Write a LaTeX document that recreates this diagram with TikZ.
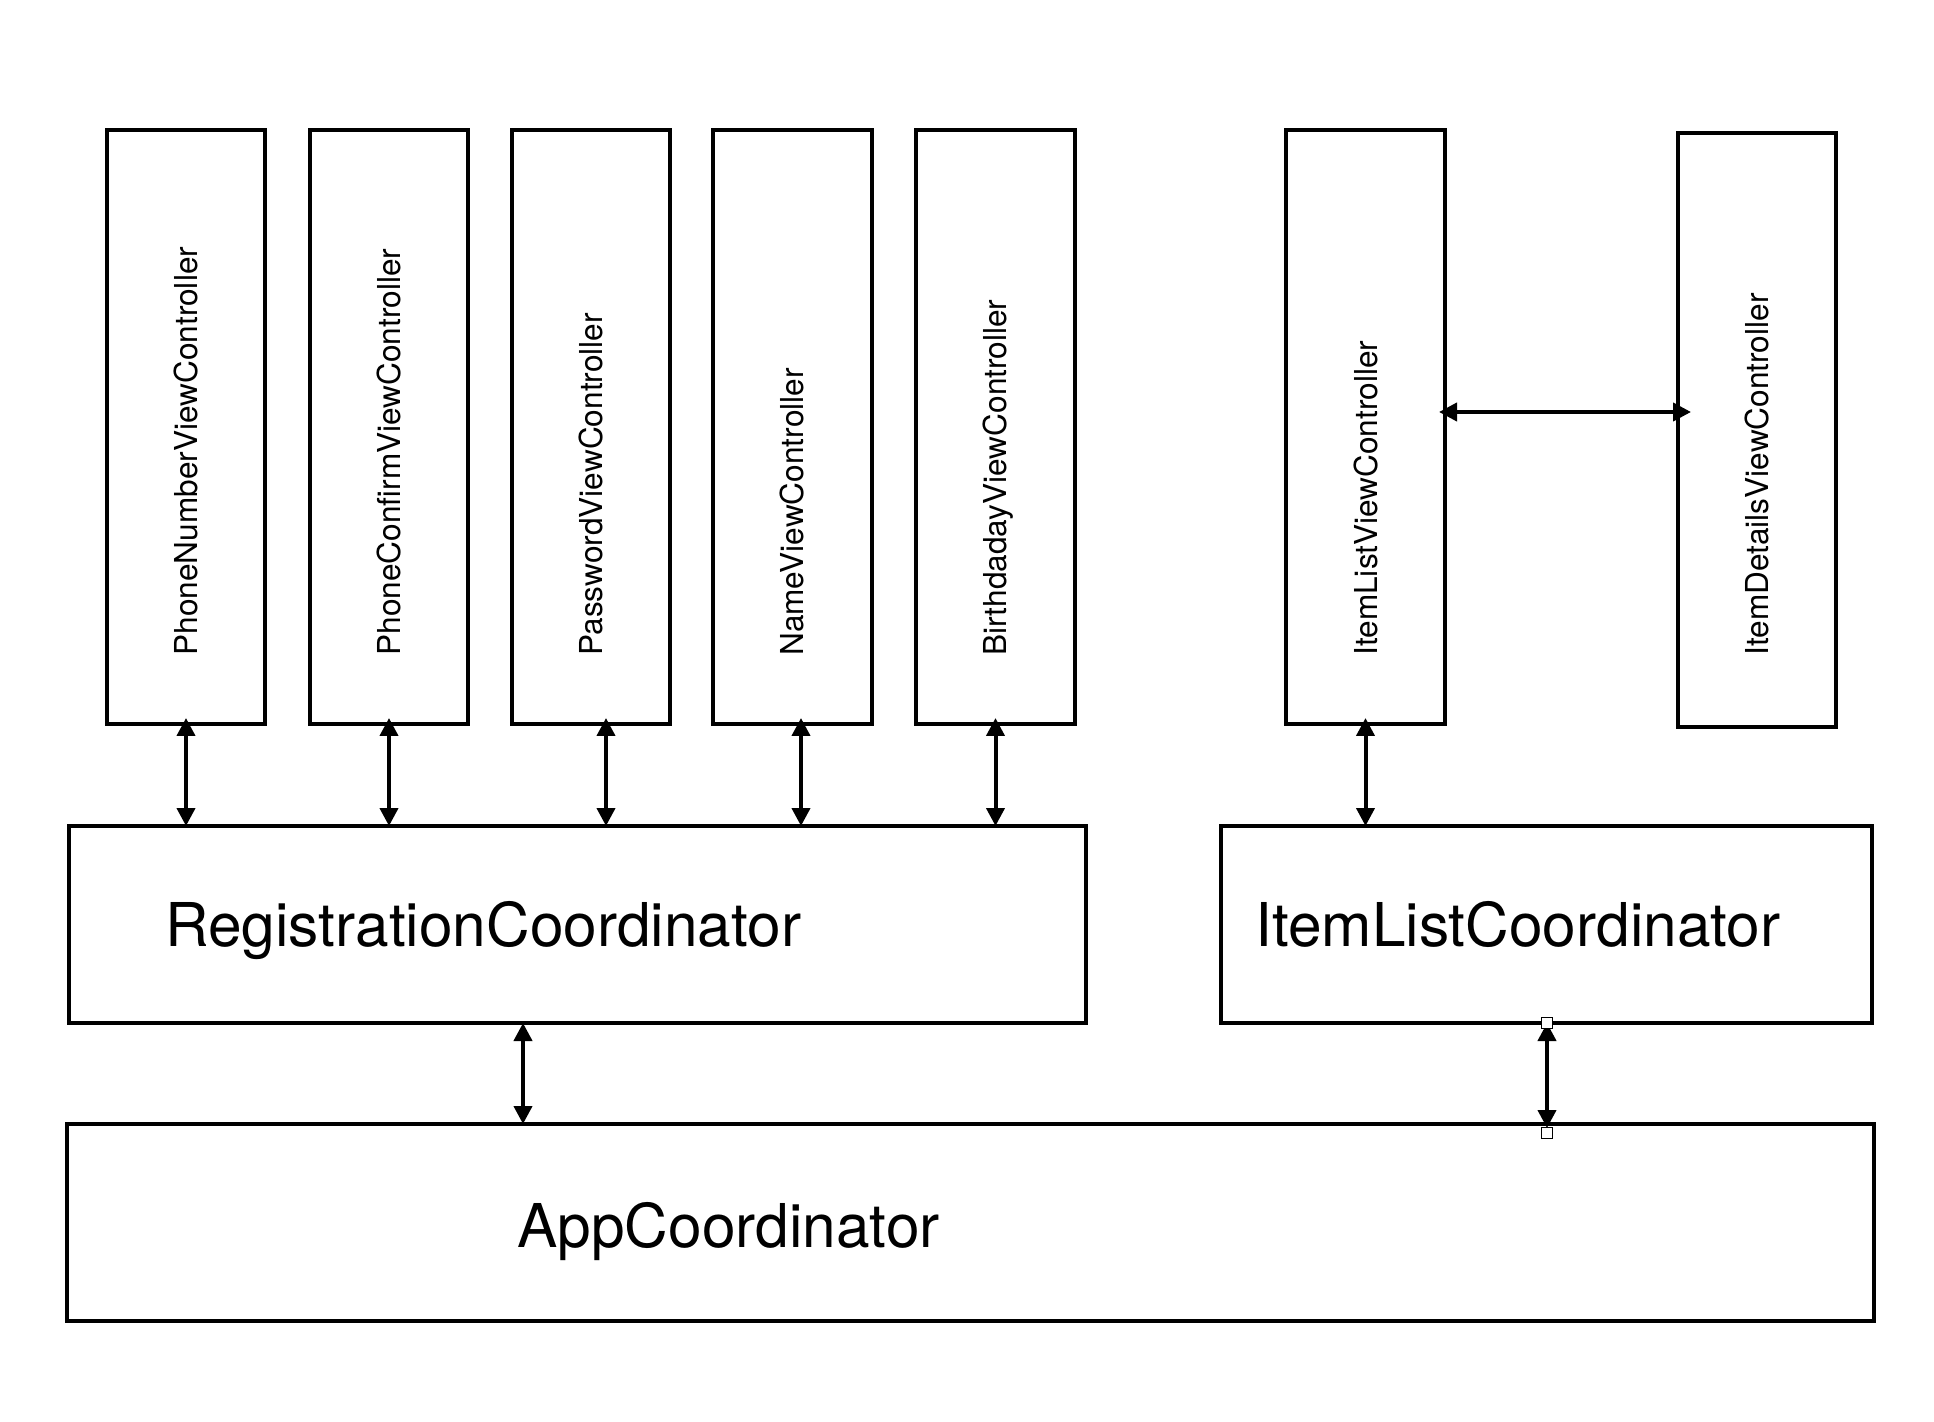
\documentclass[tikz,border=0pt]{standalone}
\usepackage{fontspec}
\setmainfont{TeX Gyre Heros}
\usetikzlibrary{arrows.meta,calc}
\begin{document}
\begin{tikzpicture}[x=0.5pt,y=-0.5pt,
  box/.style={draw,line width=1.65pt,inner sep=0pt,outer sep=0pt,anchor=north west},
  vlab/.style={rotate=90,anchor=base west,inner sep=0pt,font=\fontsize{15.8pt}{16pt}\selectfont},
  blab/.style={anchor=base west,inner sep=0pt,font=\fontsize{30.2pt}{31pt}\selectfont},
  arr/.style={line width=2pt,{Triangle[length=9pt,width=9pt]}-{Triangle[length=9pt,width=9pt]}},
  handle/.style={draw,fill=white,line width=0.5pt,minimum size=5.5pt,inner sep=0pt}]
\useasboundingbox (0,0) rectangle (1934,1422);

% view controller boxes
\node[box,minimum width=79pt,minimum height=297pt] (pn) at (107,130) {};
\node[box,minimum width=79pt,minimum height=297pt] (pc) at (310,130) {};
\node[box,minimum width=79pt,minimum height=297pt] (pw) at (512,130) {};
\node[box,minimum width=79.5pt,minimum height=297pt] (nm) at (713,130) {};
\node[box,minimum width=79.5pt,minimum height=297pt] (bd) at (916,130) {};
\node[box,minimum width=79.5pt,minimum height=297pt] (il) at (1286,130) {};
\node[box,minimum width=79pt,minimum height=297pt] (id) at (1678,133) {};

% coordinators
\node[box,minimum width=508.5pt,minimum height=98.5pt] (reg) at (69,826) {};
\node[box,minimum width=325.5pt,minimum height=98.5pt] (ilc) at (1221,826) {};
\node[box,minimum width=903.5pt,minimum height=98.5pt] (app) at (67,1124) {};

% vertical labels
\node[vlab] (pnl) at (197,656) {PhoneNumberViewController};
\node[vlab] (pcl) at (400,656) {PhoneConfirmViewController};
\node[vlab] (pwl) at (602,656) {PasswordViewController};
\node[vlab] (nml) at (803,656) {NameViewController};
\node[vlab] (bdl) at (1006,656) {BirthdadayViewController};
\node[vlab] (ill) at (1377,656) {ItemListViewController};
\node[vlab] (idl) at (1768,656) {ItemDetailsViewController};

% big labels
\node[blab] (regl) at (165,946) {RegistrationCoordinator};
\node[blab] (ilcl) at (1255,946) {ItemListCoordinator};
\node[blab] (appl) at (517,1247) {AppCoordinator};

% connector anchor points
\coordinate (a1) at ($(pn.south)+(0,-6)$);
\coordinate (a2) at ($(pc.south)+(0,-6)$);
\coordinate (a3) at ($(pw.south)+(15,-6)$);
\coordinate (a4) at ($(nm.south)+(8.5,-6)$);
\coordinate (a5) at ($(bd.south)+(0,-6)$);
\coordinate (a6) at ($(il.south)+(0,-6)$);
\coordinate (hy) at (0,412);
\coordinate (ra) at ($(reg.south west)+(454,0)$);
\coordinate (ia) at ($(ilc.south west)+(326,0)$);

\draw[arr] (a1) -- (a1 |- reg.north);
\draw[arr] (a2) -- (a2 |- reg.north);
\draw[arr] (a3) -- (a3 |- reg.north);
\draw[arr] (a4) -- (a4 |- reg.north);
\draw[arr] (a5) -- (a5 |- reg.north);
\draw[arr] (a6) -- (a6 |- ilc.north);
\draw[arr] ($(il.east |- hy)+(-6,0)$) -- ($(id.west |- hy)+(13,0)$);
\draw[arr] (ra) -- (ra |- app.north);
\draw[arr] (ia) -- ($(ia |- app.north)+(0,4)$);

% selection handles
\node[handle] (h1) at ($(ia)+(0,-0.5)$) {};
\node[handle] (h2) at ($(ia |- app.north)+(0,9)$) {};
\end{tikzpicture}
\end{document}
